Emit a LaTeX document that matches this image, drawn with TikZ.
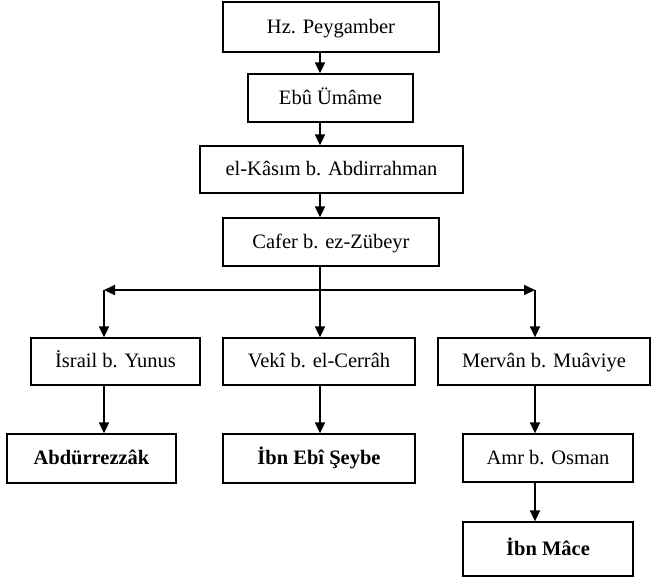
\documentclass[tikz,border=0pt]{standalone}
\usepackage{fontspec}
\setmainfont{Liberation Serif}
\usetikzlibrary{arrows.meta}
\tikzstyle{narrator}=[draw, line width=1.3pt, inner sep=0, text height=16pt, text depth=4pt, font=\fontsize{20.5}{24}\selectfont]
\tikzstyle{collector}=[narrator, font=\fontsize{20.5}{24}\selectfont\bfseries]
\tikzstyle{link}=[line width=1.8pt, -{Triangle[length=11pt, width=10pt]}]

\begin{document}
\begin{tikzpicture}[x=1pt, y=-1pt]
      \useasboundingbox (0, 0) rectangle (652, 584);

      \node[narrator, minimum width=216pt, minimum height=50pt] (hz) at (331, 27) {Hz. Peygamber};
      \node[narrator, minimum width=165pt, minimum height=48pt] (ebu) at (330.5, 98) {Ebû Ümâme};
      \node[narrator, minimum width=263pt, minimum height=47pt] (kasim) at (331.5, 169.5) {el-Kâsım b. Abdirrahman};
      \node[narrator, minimum width=216pt, minimum height=48pt] (cafer) at (331, 242) {Cafer b. ez-Zübeyr};

      \node[narrator, minimum width=169pt, minimum height=47pt] (israil) at (115.5, 361.5) {İsrail b. Yunus};
      \node[narrator, minimum width=192pt, minimum height=47pt] (veki) at (319, 361.5) {Vekî b. el-Cerrâh};
      \node[narrator, minimum width=212pt, minimum height=47pt] (mervan) at (544, 361.5) {Mervân b. Muâviye};

      \node[collector, minimum width=169pt, minimum height=49pt] (abdur) at (91.5, 458.5) {Abdürrezzâk};
      \node[collector, minimum width=192pt, minimum height=49pt] (seybe) at (319, 458.5) {İbn Ebî Şeybe};
      \node[narrator, minimum width=170pt, minimum height=48pt] (amr) at (548, 458) {Amr b. Osman};
      \node[collector, minimum width=170pt, minimum height=54pt] (mace) at (548, 549) {İbn Mâce};

      \coordinate (fork) at (320, 290);
      \coordinate (fork_left) at (104, 290);
      \coordinate (fork_right) at (535, 290);

      \draw[link] (hz.south -| fork) to (ebu.north -| fork);
      \draw[link] (ebu.south -| fork) to (kasim.north -| fork);
      \draw[link] (kasim.south -| fork) to (cafer.north -| fork);
      \draw[link] (cafer.south -| fork) to (veki.north -| fork);
      \draw[link] (fork) to (fork_left);
      \draw[link] (fork) to (fork_right);
      \draw[link] (fork_left) to (israil.north -| fork_left);
      \draw[link] (fork_right) to (mervan.north -| fork_right);

      \draw[link] (israil.south -| fork_left) to (abdur.north -| fork_left);
      \draw[link] (veki.south -| fork) to (seybe.north -| fork);
      \draw[link] (mervan.south -| fork_right) to (amr.north -| fork_right);
      \draw[link] (amr.south -| fork_right) to (mace.north -| fork_right);
    \end{tikzpicture}
\end{document}
